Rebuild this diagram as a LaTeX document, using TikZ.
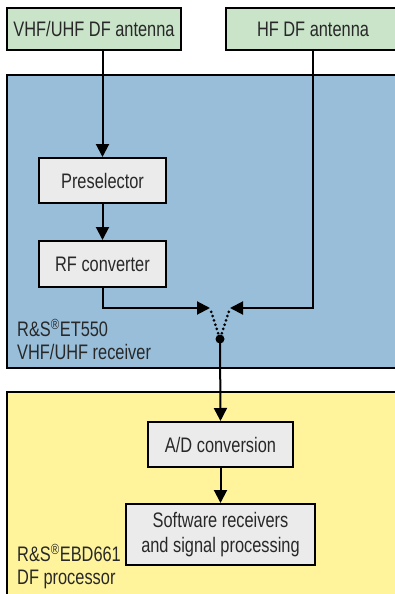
\documentclass[tikz,border=0pt]{standalone}
\usepackage{fontspec}
\setmainfont{Liberation Sans}[FakeStretch=0.78]
\usetikzlibrary{arrows.meta}
\definecolor{antgreen}{RGB}{202,228,202}
\definecolor{rxblue}{RGB}{152,190,218}
\definecolor{procyellow}{RGB}{255,244,156}
\definecolor{boxgray}{RGB}{235,235,235}
\definecolor{txt}{RGB}{40,40,40}
\begin{document}
\begin{tikzpicture}[x=1pt,y=-1pt,
  font=\fontsize{21}{25}\selectfont,
  box/.style={draw=black, line width=2pt, fill=boxgray, inner sep=0pt, text=txt, align=center},
  antbox/.style={box, fill=antgreen, minimum width=174pt, minimum height=42pt},
  region/.style={draw=black, line width=2pt},
  lbl/.style={anchor=west, align=left, inner sep=0pt, text=txt},
  conn/.style={line width=2pt, -{Triangle[length=13pt,width=13pt]}},
  dotline/.style={line width=3pt, line cap=round, dash pattern=on 0pt off 4.5pt}]
\useasboundingbox (0,0) rectangle (395,594);
\clip (0,0) rectangle (395,594);
\fill[white] (0,0) rectangle (395,594);
% regions
\draw[region, fill=rxblue] (7,75) rectangle (420,368);
\draw[region, fill=procyellow] (7,392) rectangle (420,620);
% antennas
\node[antbox] (vhf) at (94,29) {VHF/UHF DF antenna};
\node[antbox] (hf) at (313,29) {HF DF antenna};
% receiver blocks
\node[box, minimum width=127pt, minimum height=45pt] (pre) at (102.5,180.5) {Preselector};
\node[box, minimum width=127pt, minimum height=46pt] (rfc) at (102.5,264) {RF converter};
\node[box, minimum width=145pt, minimum height=45pt] (ad) at (220.5,444.5) {A/D conversion};
\node[box, minimum width=189pt, minimum height=61pt] (sw) at (220.5,534.5) {Software receivers\\and signal processing};
% labels
\node[lbl] (et) at (17,328) {R\&S\textsuperscript{®}ET550};
\node[lbl] (etd) at (17,352) {VHF/UHF receiver};
\node[lbl] (ebd) at (17,553) {R\&S\textsuperscript{®}EBD661};
\node[lbl] (ebdd) at (17,579) {DF processor};
% junction
\coordinate (jl) at (210,308);
\coordinate (jr) at (230,308);
\node[circle, fill=black, inner sep=0pt, minimum size=9pt] (dot) at (220,339) {};
% connectors
\draw[conn] (vhf.south -| pre.north) -- (pre.north);
\draw[conn] (pre.south) -- (rfc.north);
\draw[conn] (rfc.south) |- (jl);
\draw[conn] (hf.south) |- (jr);
\draw[dotline, shorten <=4pt, shorten >=5pt] (jl) -- (dot.center);
\draw[dotline, shorten <=4pt, shorten >=5pt] (jr) -- (dot.center);
\draw[conn] (dot.center) -- (ad.north);
\draw[conn] (ad.south) -- (sw.north);
\end{tikzpicture}
\end{document}
